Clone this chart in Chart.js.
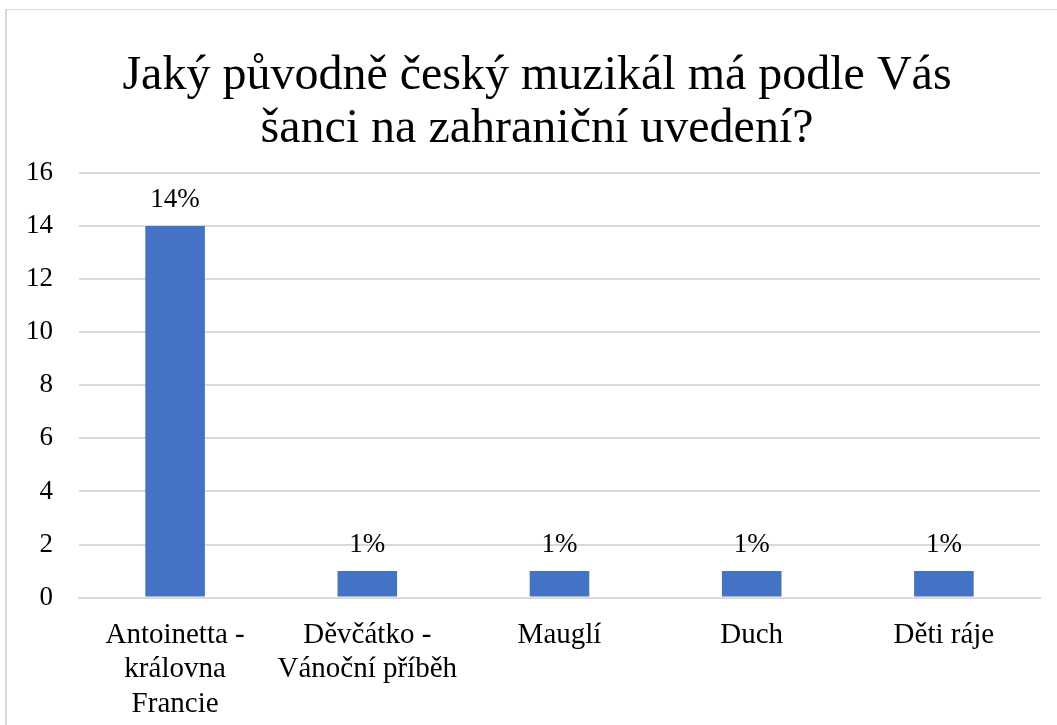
<!DOCTYPE html>
<html>
<head>
<meta charset="utf-8">
<script src="https://cdn.jsdelivr.net/npm/chart.js@4.4.1/dist/chart.umd.min.js"></script>
<style>
  html, body { margin: 0; padding: 0; background: #fff; overflow: hidden; }
  #frame { position: absolute; left: 5px; top: 9px; width: 1100px; height: 800px;
           border-top: 1px solid #d9d9d9; border-left: 2px solid #d9d9d9; }
  #wrap { position: absolute; left: 0; top: 0; width: 1057px; height: 725px; }
</style>
</head>
<body>
<div id="frame"></div>
<div id="wrap"><canvas id="chart" width="1057" height="725"></canvas></div>
<script>
// data
const titleLines = ['Jaký původně český muzikál má podle Vás', 'šanci na zahraniční uvedení?'];
const categories = [
    ['Antoinetta -', 'královna', 'Francie'],
    ['Děvčátko -', 'Vánoční příběh'],
    'Mauglí',
    'Duch',
    'Děti ráje'
];
const counts = [14, 1, 1, 1, 1];
const percentLabels = ['14%', '1%', '1%', '1%', '1%'];

const serif = '"Liberation Serif", "Times New Roman", serif';
const barColor = '#4472C4';
const gridColor = '#d9d9d9';

// nadpis - kreslen vlastnim pluginem, aby sedel na stred jako v Excelu
const chartTitle = {
    id: 'chartTitle',
    afterDraw(chart) {
        const ctx = chart.ctx;
        ctx.save();
        ctx.font = '48px ' + serif;
        ctx.fillStyle = '#000';
        ctx.textAlign = 'center';
        ctx.textBaseline = 'middle';
        titleLines.forEach((line, i) => {
            ctx.fillText(line, 537, 76 + i * 53);
        });
        ctx.restore();
    }
};

// popisky nad sloupci
const barLabels = {
    id: 'barLabels',
    afterDatasetsDraw(chart) {
        const ctx = chart.ctx;
        const meta = chart.getDatasetMeta(0);
        ctx.save();
        ctx.font = '27px ' + serif;
        ctx.fillStyle = '#000';
        ctx.textAlign = 'center';
        ctx.textBaseline = 'middle';
        meta.data.forEach((bar, i) => {
            ctx.fillText(percentLabels[i], bar.x, bar.y - 26);
        });
        ctx.restore();
    }
};

new Chart(document.getElementById('chart'), {
    type: 'bar',
    data: {
        labels: categories,
        datasets: [{
            data: counts,
            backgroundColor: barColor,
            borderWidth: 0,
            categoryPercentage: 1,
            barPercentage: 0.31
        }]
    },
    options: {
        responsive: false,
        animation: false,
        layout: { padding: { left: 0, right: 17, top: 173, bottom: -9 } },
        plugins: {
            legend: { display: false },
            tooltip: { enabled: false },
            title: { display: false }
        },
        scales: {
            x: {
                grid: { display: false },
                border: { display: true, color: gridColor, width: 2 },
                ticks: {
                    color: '#000',
                    font: { family: serif, size: 29, lineHeight: 1.2 },
                    maxRotation: 0,
                    autoSkip: false,
                    padding: 12
                }
            },
            y: {
                min: 0,
                max: 16,
                grid: { color: gridColor, lineWidth: 2, drawTicks: false },
                border: { display: false },
                ticks: {
                    stepSize: 2,
                    color: '#000',
                    font: { family: serif, size: 27 },
                    padding: 26
                }
            }
        }
    },
    plugins: [barLabels, chartTitle]
});
</script>
</body>
</html>
